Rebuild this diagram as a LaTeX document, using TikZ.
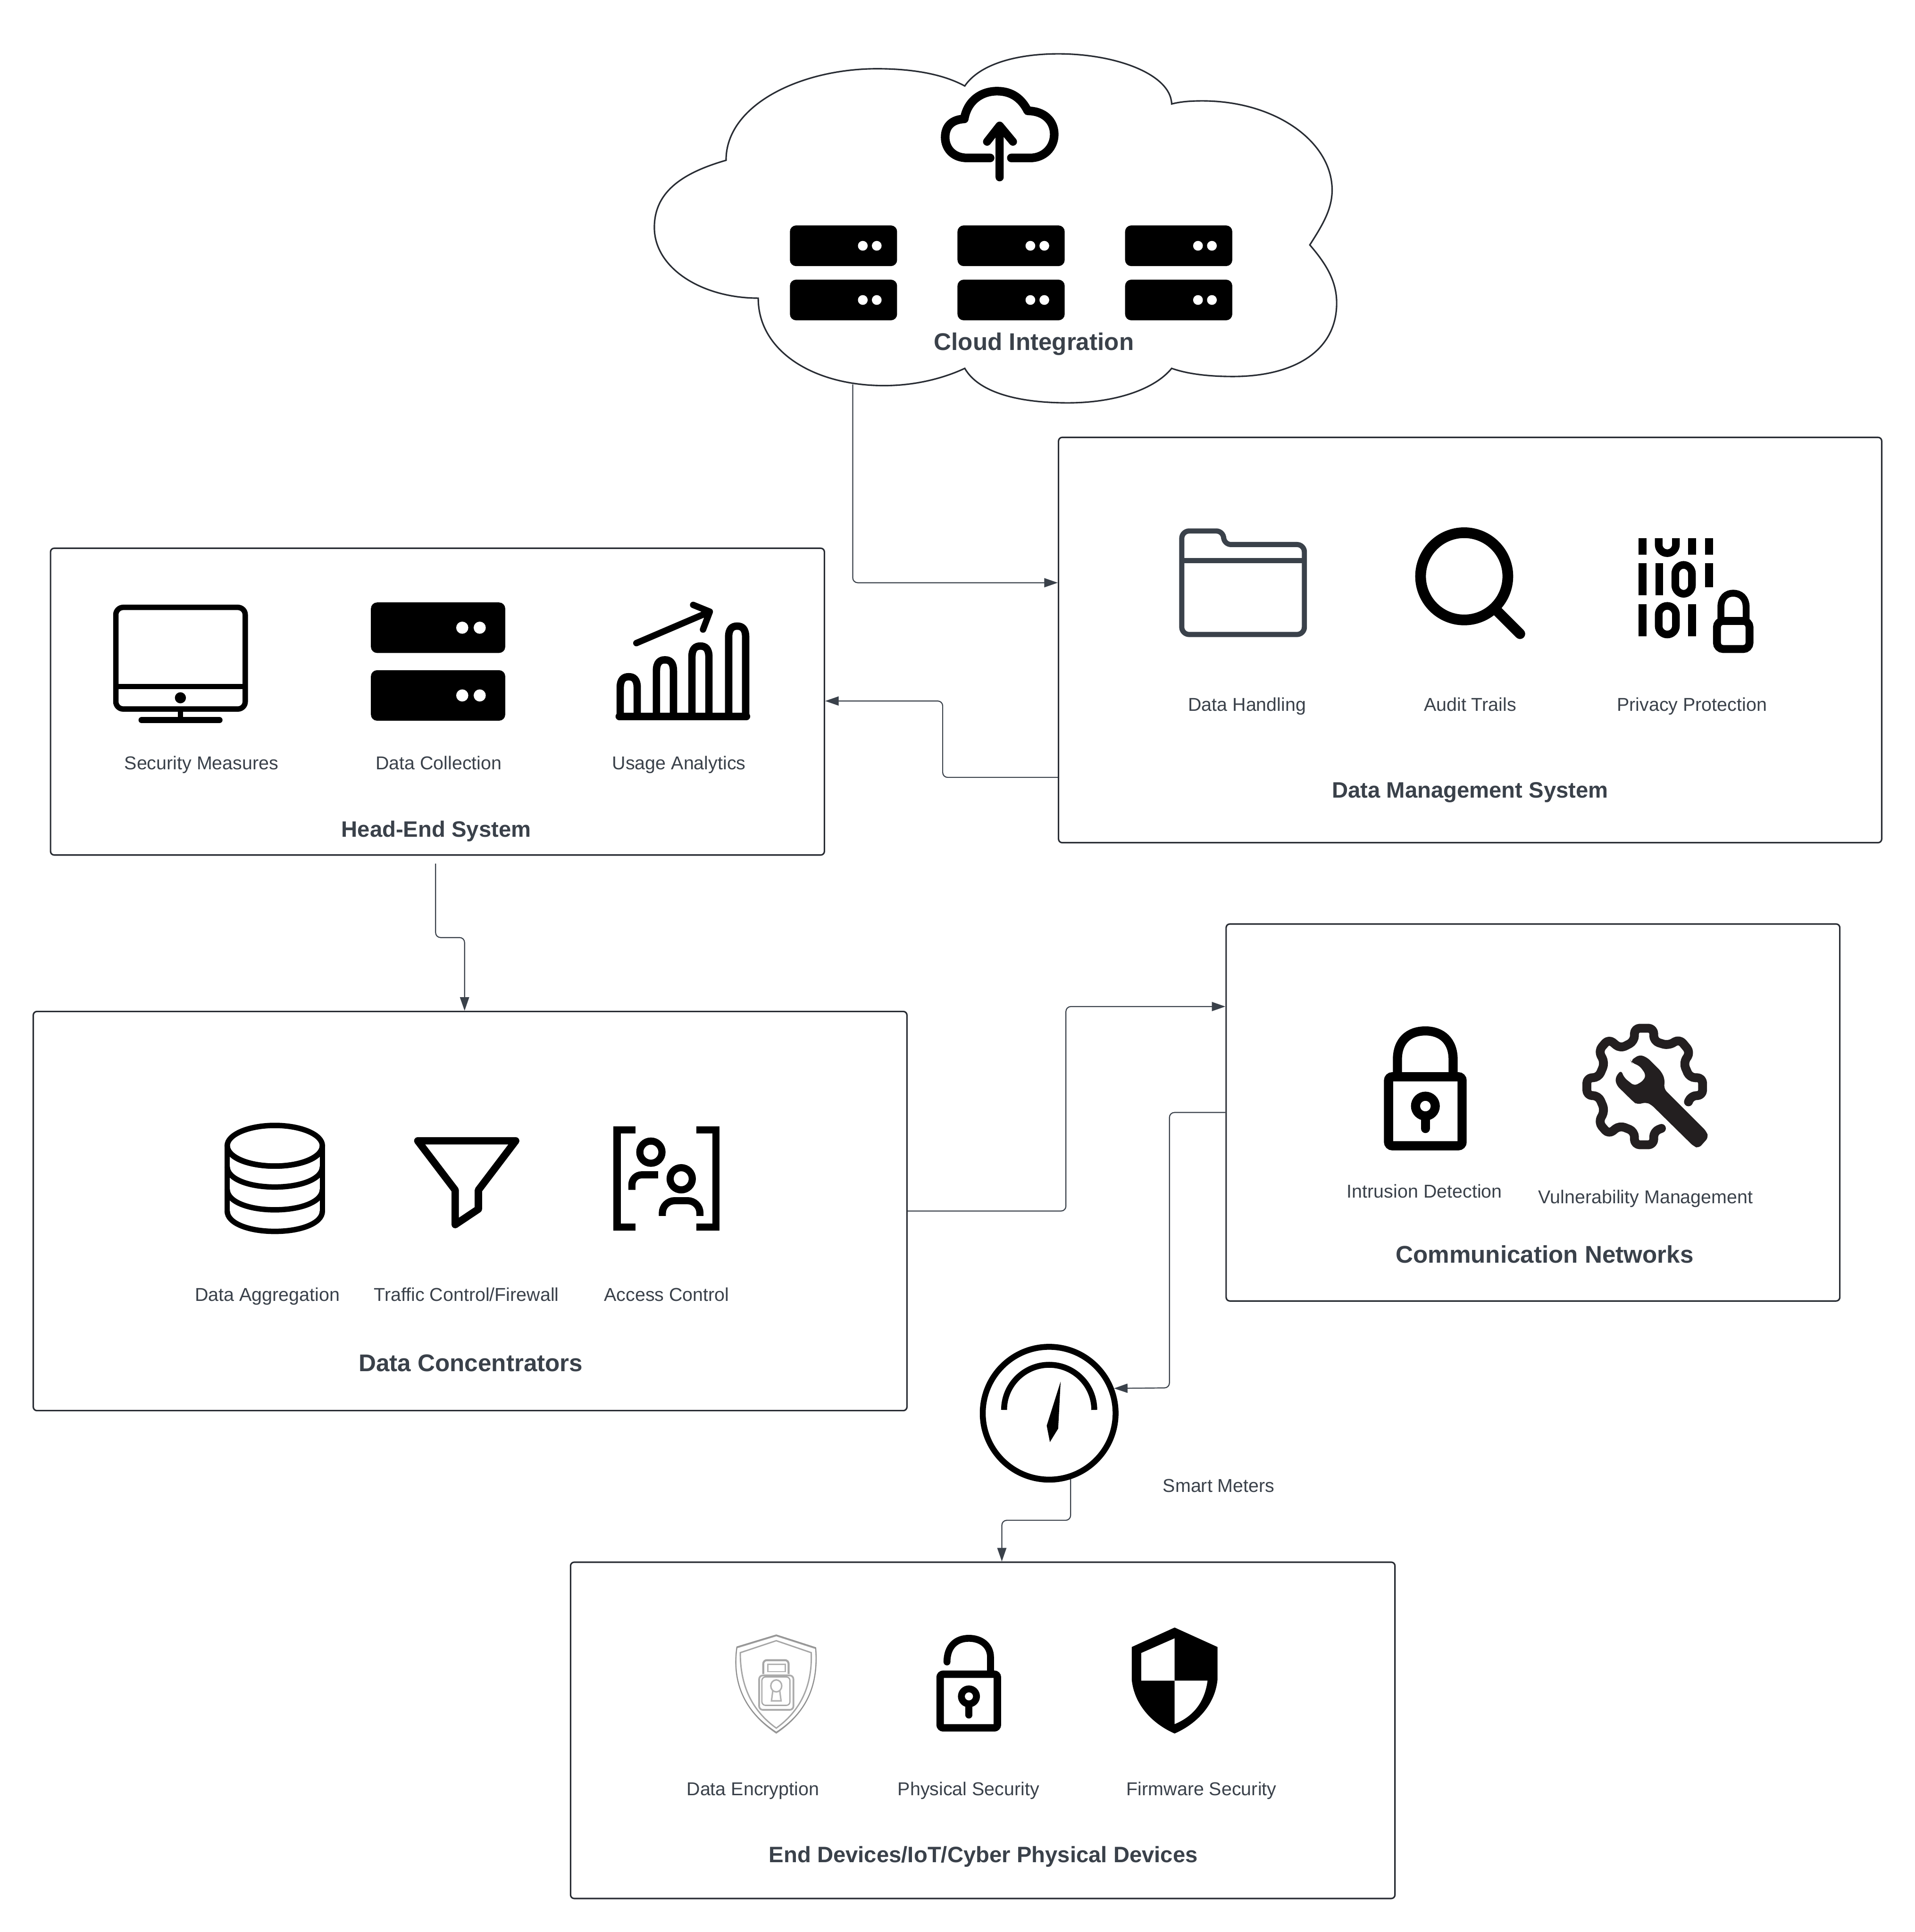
\documentclass[tikz,border=0pt]{standalone}
\usepackage{fontspec}
\setmainfont{Liberation Sans}
\usetikzlibrary{arrows.meta,calc}
\definecolor{ink}{HTML}{3A414A}
\definecolor{edge}{HTML}{282C33}
\definecolor{gearc}{HTML}{231F20}
\newcommand{\serverbox}[4]{% x y w h
  \fill[black,rounded corners=2.5pt] (#1,#2) rectangle ({#1+#3},{#2+#4});
  \fill[white] ({#1+.68*#3},{#2+.5*#4}) circle[radius={.12*#4}];
  \fill[white] ({#1+.81*#3},{#2+.5*#4}) circle[radius={.12*#4}];
}
\tikzset{
  panel/.style 2 args={draw=edge,line width=.6pt,fill=white,rounded corners=1.5pt,minimum width=.5pt*#1,minimum height=.5pt*#2,inner sep=0},
  lab/.style={text=ink,font=\fontsize{7.55pt}{9pt}\selectfont,inner sep=0,text height=.72em,text depth=.2em},
  title/.style={text=ink,font=\fontsize{#1}{12pt}\selectfont\bfseries,inner sep=0,text height=.72em,text depth=.2em},
  title/.default=9.8pt,
  conn/.style={draw=ink,line width=.42pt,rounded corners=2pt,-{Triangle[length=5.5pt,width=3.7pt]}},
  ic/.style={draw=black,line width=#1,line cap=butt},
}
\begin{document}
\begin{tikzpicture}[x=.5pt,y=-.5pt]
\useasboundingbox (0,0) rectangle (1554,1568.2);
\fill[white] (0,0) rectangle (1554,1568.2);

% ---- cloud
\draw[draw=edge,line width=.6pt,fill=white]
 (589.2,130.1) .. controls (589,85) and (650,55.8) .. (711.7,55.8)
 .. controls (740,55.8) and (765,60) .. (782.9,69.8)
 .. controls (795,52) and (825,43.7) .. (859,43.7)
 .. controls (905,43.7) and (950,60) .. (950.8,84.4)
 .. controls (958,82.5) and (966,81.9) .. (975.7,81.9)
 .. controls (1035,81.9) and (1081,115) .. (1081,154.3)
 .. controls (1081,170) and (1073,183) .. (1062.9,198.8)
 .. controls (1076,214) and (1084.7,228) .. (1084.7,246)
 .. controls (1084.7,285) and (1050,305.6) .. (1000.5,305.6)
 .. controls (983,305.6) and (965,304) .. (950.8,299)
 .. controls (937,316) and (905,327) .. (866.6,327)
 .. controls (830,327) and (795,320) .. (782.9,299)
 .. controls (768,306) and (745,313) .. (717.4,313)
 .. controls (660,313) and (615.3,285) .. (615.3,242)
 .. controls (570,242) and (531,218) .. (531,184.6)
 .. controls (531,155) and (555,140) .. (589.2,130.1) -- cycle;
\coordinate (cloudport) at (692,312);
% cloud upload icon
\draw[ic=3.5pt,line cap=round,line join=round]
 (803.5,128.2) -- (785,128.2) .. controls (773,128.2) and (767,120) .. (767,111.5)
 .. controls (767,102) and (773,97) .. (782.5,96.5)
 .. controls (785,82) and (796,74) .. (809.2,74)
 .. controls (821,74) and (829,80) .. (834,90)
 .. controls (847,90) and (855.5,98) .. (855.5,109)
 .. controls (855.5,120) and (847,128.2) .. (836,128.2) -- (820.7,128.2);
\draw[ic=3.3pt,line cap=round,line join=round] (811.2,143.9) -- (811.2,103) (801,115) -- (811.2,102) -- (822,115);
% cloud servers
\foreach \sx in {641,777,913}{\serverbox{\sx}{183}{87}{33}\serverbox{\sx}{227}{87}{33}}
\node[title] (cloudt) at (839,279) {Cloud Integration};

% ---- panels
\node[panel={668}{329}] (dms) at (1193,519.5) {};
\node[panel={628}{249}] (hes) at (355,569.5) {};
\node[panel={709}{324}] (dc) at (381.5,983) {};
\node[panel={498}{306}] (cn) at (1244,903) {};
\node[panel={669}{273}] (ed) at (797.5,1404.5) {};

% ---- meter
\node[circle,draw=black,line width=2.4pt,fill=white,minimum size=53.9pt,inner sep=0] (meter) at (851.4,1147.1) {};
\draw[ic=2.4pt] (814.8,1144.4) arc[start angle=180,end angle=360,radius=36.6];
\fill[black] (860.7,1121.4) -- (858.7,1159.6) -- (852,1170.5) -- (849.4,1157.2) -- cycle;
\node[lab] (smt) at (989,1206) {Smart Meters};

% ---- connectors
\draw[conn] (cloudport) -- (692,473) -- (dms.west |- 0,473);
\draw[conn] (dms.west |- 0,631) -- (765,631) -- (765,569) -- (hes.east |- 0,569);
\coordinate (hesport) at (353.5,701);
\draw[conn] (hesport) -- (353.5,761) -- (377,761) -- (dc.north -| 377,0);
\draw[conn] (dc.east) -- (865,983) -- (865,817) -- (cn.west |- 0,817);
\draw[conn] (cn.west) -- (949,903) -- (949 ,1126.5) -- (meter.21);
\draw[conn] (meter.-72.5) -- (meter.-72.5 |- 0,1234) -- (813,1234) -- (ed.north -| 813,0);

% ---- Head-end icons
\draw[ic=2.2pt,rounded corners=3pt] (94,493) rectangle (199,575.5);
\draw[ic=2.2pt] (94,557.2) -- (199,557.2);
\fill (146.4,566.4) circle[radius=4.5];
\draw[ic=2pt] (146.5,577) -- (146.5,584);
\draw[ic=2.6pt,line cap=round] (115,584.5) -- (178,584.5);
\serverbox{301}{489}{109}{41}\serverbox{301}{544}{109}{41}
% chart
\draw[ic=3pt,line cap=round] (502.5,581.5) -- (605.8,581.5);
\foreach \a/\t in {503.3/546.3,532.7/532.6,561.5/521.4,591.3/505.2}{
  \draw[ic=3pt] (\a,581.5) -- (\a,{\t+12}) .. controls (\a,{\t+5}) and ({\a+3},{\t+3}) .. ({\a+6.9},{\t+3})
    .. controls ({\a+10.8},{\t+3}) and ({\a+13.8},{\t+5}) .. ({\a+13.8},{\t+12}) -- ({\a+13.8},581.5);
}
\draw[ic=2.6pt,line cap=round,line join=round] (516.4,522) -- (576,496.5) (562.5,491) -- (576,496.5) -- (570.5,511);
\node[lab] (l1) at (163.5,619.5) {Security Measures};
\node[lab] (l2) at (356,619.5) {Data Collection};
\node[lab] (l3) at (551,619.5) {Usage Analytics};
\node[title=9.05pt] (t1) at (354,674) {Head-End System};

% ---- Data management icons
\draw[draw=ink,line width=2.1pt,rounded corners=3pt]
 (959,515) -- (959,431) -- (993,431) -- (993,442) -- (1058.5,442) -- (1058.5,515) -- cycle;
\draw[draw=ink,line width=2.1pt] (959,455) -- (1058.5,455);
\draw[ic=4.35pt] (1188.2,467.8) circle[radius=35.4];
\draw[ic=4.2pt,line cap=round] (1214,495) -- (1233.5,514.5);
% binary
\begin{scope}
\clip (1325,437) rectangle (1395,530);
\foreach \a/\b/\c in {1333/437/450.4,1373/437/450.4,1386.8/437/450.4,1333/457/483.3,1346.5/457/483.3,1386.8/457/476.5,1333/490.3/516.6,1373/490.3/516.6}{
  \draw[ic=3.2pt] (\a,\b) -- (\a,\c);}
\draw[ic=3.1pt,rounded corners=3.5pt] (1346,430) rectangle (1360,449);
\draw[ic=3.1pt,rounded corners=3.5pt] (1359.5,458.5) rectangle (1373,482);
\draw[ic=3.1pt,rounded corners=3.5pt] (1346,491.8) rectangle (1360,515);
\end{scope}
\draw[ic=3.2pt,rounded corners=2.5pt] (1393.3,504) rectangle (1419.7,526.8);
\draw[ic=2.8pt] (1396.5,504) -- (1396.5,493) .. controls (1396.5,485) and (1401,481.5) .. (1406.5,481.5)
 .. controls (1412,481.5) and (1417,485) .. (1417,493) -- (1417,504);
\node[lab] (l4) at (1012,572) {Data Handling};
\node[lab] (l5) at (1193,572) {Audit Trails};
\node[lab] (l6) at (1373,572) {Privacy Protection};
\node[title=9.05pt] (t2) at (1193,642.5) {Data Management System};

% ---- Data concentrator icons
\draw[ic=2.2pt] (223,930) ellipse[x radius=38.6,y radius=16.5];
\draw[ic=2.2pt] (184.4,930) -- (184.4,983) (261.6,930) -- (261.6,983);
\foreach \y in {930,947,965.5,983}{
  \draw[ic=2.2pt] (184.4,\y) .. controls (184.4,{\y+10}) and (202,{\y+16.5}) .. (223,{\y+16.5})
    .. controls (244,{\y+16.5}) and (261.6,{\y+10}) .. (261.6,\y);
}
\draw[ic=3pt,line join=round] (339,926) -- (418.5,926) -- (388.2,966) -- (388.2,981.4) -- (369.4,994) -- (369.4,966) -- cycle;
\draw[ic=2.9pt] (515.7,917) -- (500.8,917) -- (500.8,996) -- (515.7,996);
\draw[ic=2.9pt] (565,917) -- (581,917) -- (581,996) -- (565,996);
\draw[ic=2.9pt] (528.2,935.2) circle[radius=9];
\draw[ic=2.9pt] (552.8,956.8) circle[radius=9];
\draw[ic=2.9pt,rounded corners=4pt] (512.8,965.8) -- (512.8,953.6) -- (534,953.6);
\draw[ic=2.9pt,rounded corners=5pt] (537.5,987) -- (537.5,974.6) -- (568,974.6) -- (568,987);
\node[lab] (l7) at (217,1051) {Data Aggregation};
\node[lab] (l8) at (378.5,1051) {Traffic Control/Firewall};
\node[lab] (l9) at (541,1051) {Access Control};
\node[title] (t3) at (382,1108) {Data Concentrators};

% ---- Communication networks icons
\draw[ic=3.7pt,rounded corners=1.5pt] (1126.8,874) rectangle (1186.5,930);
\draw[ic=3.7pt] (1134,874) -- (1134,860) .. controls (1134,845) and (1143,836.8) .. (1156.7,836.8)
 .. controls (1170,836.8) and (1179.2,845) .. (1179.2,860) -- (1179.2,874);
\draw[ic=3.7pt] (1156.7,897.8) circle[radius=8];
\draw[ic=3.7pt,line cap=round] (1156.7,906) -- (1156.7,916);
\begin{scope}[shift={(1090.5,817.9)},x=.10435pt,y=-.0605pt]
 \draw[draw=gearc,line width=3.6pt,line join=round,rounded corners=2.2pt,line cap=round]
  (1340,632) -- (1350,590) -- (1395,590) -- (1395,470) -- (1345,470) -- (1320,370) -- (1348,300) -- (1305,210) -- (1262,255) -- (1205,225) -- (1205,138) -- (1130,138) -- (1130,225) -- (1075,275) -- (1030,210) -- (990,290) -- (1015,370) -- (990,470) -- (945,470) -- (945,590) -- (990,590) -- (1015,690) -- (990,770) -- (1030,850) -- (1072,790) -- (1130,830) -- (1130,920) -- (1205,920) -- (1205,830) -- (1235,810);
 \fill[gearc,rounded corners=1.5pt] (1115,355) -- (1150,315) -- (1180,335) -- (1235,430) -- (1248,480) -- (1245,545) -- (1410,830) -- (1418,870) -- (1380,943) -- (1360,930) -- (1195,650) -- (1175,635) -- (1140,650) -- (1125,630) -- (1060,520) -- (1055,470) -- (1078,418) -- (1090,470) -- (1130,525) -- (1165,490) -- (1175,450) -- (1150,390) -- (1120,370) -- cycle;
\end{scope}
\node[lab] (l10) at (1156,967) {Intrusion Detection};
\node[lab] (l11) at (1335.5,971.5) {Vulnerability Management};
\node[title] (t4) at (1253.5,1020) {Communication Networks};

% ---- End device icons
\begin{scope}[shift={(574.3,1308.9)},x=.1391pt,y=-.06075pt]
 \foreach \o/\w/\cc in {0/.45pt/gray!75,-6/.3pt/gray!90}{
  \draw[draw=\cc,line width=\w] (200,{155+\o}) -- (315,{240+\o}) .. controls (322,450) and (300,650) .. (200,{805+\o})
   .. controls (100,650) and (72,450) .. (85,{235+\o}) -- cycle;}
 \draw[draw=gray!70,line width=.55pt] (200,188) -- (302,268) .. controls (305,460) and (280,640) .. (200,772)
   .. controls (120,640) and (95,460) .. (95,268) -- cycle;
 \draw[draw=gray!65,line width=.7pt,rounded corners=1.5pt] (150,420) rectangle (250,650);
 \draw[draw=gray!70,line width=.5pt,rounded corners=1.5pt] (158,430) rectangle (240,620);
 \draw[draw=gray!70,line width=.8pt,rounded corners=1.5pt] (162,410) -- (162,318) -- (236,318) -- (236,410);
 \draw[draw=gray!60,line width=.5pt] (175,345) rectangle (226,395);
 \draw[draw=gray!60,line width=.6pt] (200,490) ellipse[x radius=16,y radius=40];
 \draw[draw=gray!60,line width=.6pt] (190,520) -- (186,590) -- (214,590) -- (210,520);
 % open padlock
 \draw[ic=3pt,rounded corners=1.2pt] (678,412) rectangle (845,770);
 \draw[ic=2.8pt,line cap=round] (825,392) -- (825,300) .. controls (825,215) and (795,172) .. (762,172)
   .. controls (725,172) and (698,225) .. (698,330);
 \draw[ic=2.8pt] (762,560) ellipse[x radius=22,y radius=50];
 \draw[ic=2.8pt,line cap=round] (762,615) -- (762,685);
 % half shield
 \fill[black] (1362,100) -- (1487,230) -- (1487,450) .. controls (1480,610) and (1430,740) .. (1362,808)
   .. controls (1294,740) and (1244,610) .. (1237,450) -- (1237,230) -- cycle;
 \fill[white] (1362,172) -- (1265,270) -- (1265,455) -- (1362,455) -- cycle;
 \fill[white] (1362,455) -- (1458,455) .. controls (1450,590) and (1420,690) .. (1362,745) -- cycle;
\end{scope}
\node[lab] (l12) at (611,1452) {Data Encryption};
\node[lab] (l13) at (786,1452) {Physical Security};
\node[lab] (l14) at (975,1452) {Firmware Security};
\node[title=9.05pt] (t5) at (798,1506.5) {End Devices/IoT/Cyber Physical Devices};
\end{tikzpicture}
\end{document}
